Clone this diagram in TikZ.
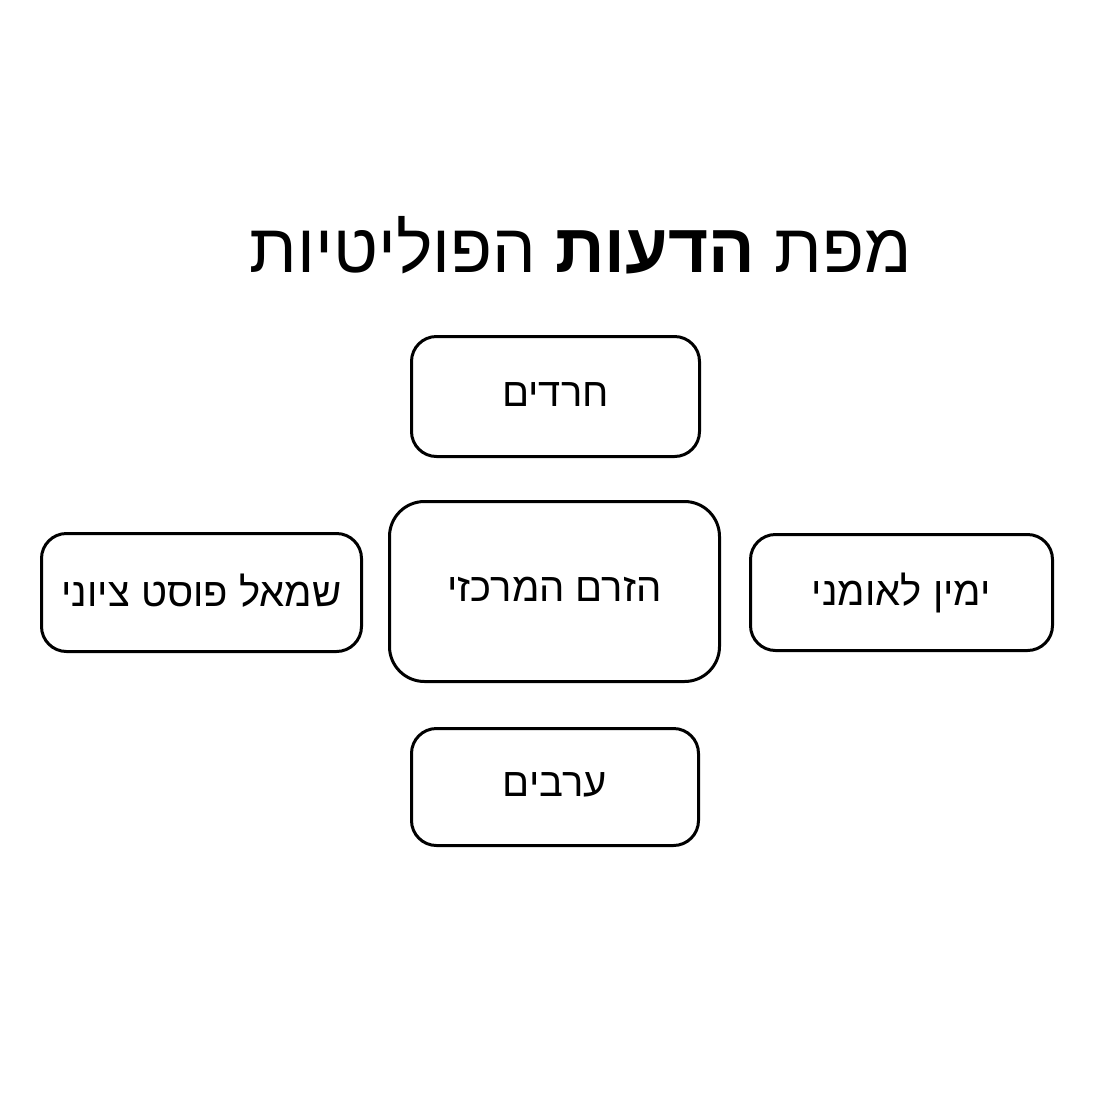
\documentclass[tikz,border=0pt]{standalone}
\usepackage{fontspec}
\TeXXeTstate=1
\newfontfamily\heb[Script=Hebrew]{Liberation Sans}
\newcommand{\boxtext}[1]{\raisebox{4pt}{\beginR #1\endR}}
\tikzset{
  box/.style={draw=black, line width=3pt, fill=white, rounded corners=#1, inner sep=0pt, font=\heb\fontsize{40}{42}\selectfont},
  box/.default=25pt
}
\begin{document}
\begin{tikzpicture}[x=1pt,y=-1pt]
\useasboundingbox (0,0) rectangle (1101,1101);
\node[anchor=base, font=\heb\fontsize{69}{72}\selectfont] (title) at (580.5,272) {\beginR מפת {\bfseries הדעות} הפוליטיות\endR};
\node[box, minimum width=288pt, minimum height=120pt] (top) at (555.5,396.5) {\boxtext{חרדים}};
\node[box=35pt, minimum width=330pt, minimum height=180pt] (center) at (554.5,591.5) {\boxtext{הזרם המרכזי}};
\node[box, minimum width=320pt, minimum height=118pt] (left) at (201.5,592.5) {\boxtext{שמאל פוסט ציוני}};
\node[box, minimum width=302pt, minimum height=116pt] (right) at (901.5,592.5) {\boxtext{ימין לאומני}};
\node[box, minimum width=287pt, minimum height=117pt] (bottom) at (555,787) {\boxtext{ערבים}};
\end{tikzpicture}
\end{document}
